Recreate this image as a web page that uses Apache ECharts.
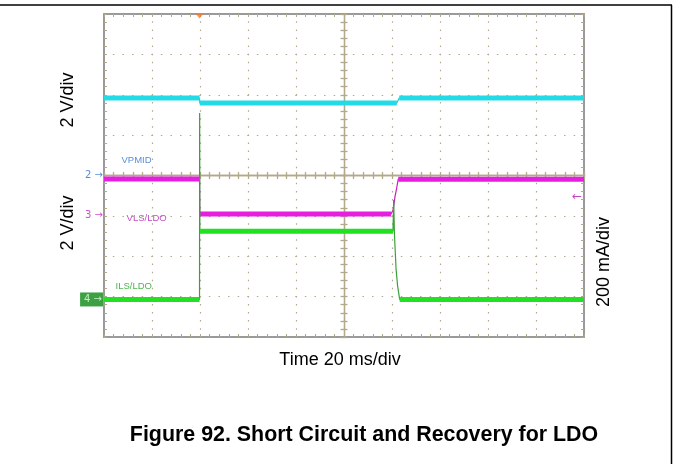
<!DOCTYPE html>
<html>
<head>
<meta charset="utf-8">
<script src="https://cdn.jsdelivr.net/npm/echarts@6/dist/echarts.min.js"></script>
<style>
  html, body { margin: 0; padding: 0; background: #ffffff; }
  #chart { width: 673px; height: 464px; }
</style>
</head>
<body>
<div id="chart"></div>
<script>
// ---- Data read from the scope capture (time in ms from left edge of screen) ----
// Channel 2 : VPMID, 2 V/div, ground marker at centre
const vpmidT = [0, 39.8, 39.9, 122.0, 123.0, 200];
const vpmidV = [3.84, 3.84, 3.59, 3.59, 3.84, 3.84];
// Channel 3 : VLS/LDO, 2 V/div, ground marker one division below centre
const vlsT = [0, 39.8, 39.9, 119.6, 120.5, 121.25, 121.95, 122.6, 200];
const vlsV = [1.83, 1.83, 0.09, 0.09, 0.30, 0.95, 1.38, 1.82, 1.82];
// Channel 4 : ILS/LDO, 200 mA/div
const ilsT = [0, 39.8, 39.85, 39.95, 120.4, 120.7, 121.0, 121.3, 121.7, 122.3, 123.2, 200];
const ilsI = [0, 0, 923, 338, 338, 492, 330, 250, 150, 70, 0, 0];

// channel settings (divisions from screen centre for ground, units per division)
const chNames = ['VPMID', 'VLS/LDO', 'ILS/LDO'];
const chMarks = ['2', '3', '4'];
const chGround = [0, -1, -3.07];
const chScale = [2, 2, 200];
const chColors = ['#22dbe6', '#e61ee0', '#22e022'];
const chThin = ['#22c8d4', '#c81cc4', '#3aa03a'];
const chLabelColors = ['#2f6fd0', '#b020b0', '#20a020'];
// label anchor positions (time ms, division)
const labelT = [7.3, 9.4, 4.8];
const labelDiv = [0.38, -1.05, -2.74];

// tick / axis settings
const timeMax = 200, timeDiv = 20;
const yDivs = 4, xDivs = 5;
const triggerT = 39.8;
const ch3ArrowDiv = -0.53;

const traces = [[vpmidT, vpmidV], [vlsT, vlsV], [ilsT, ilsI]];

function toDiv(ch, v) { return chGround[ch] + v / chScale[ch]; }

const series = [];
traces.forEach(function (tr, ch) {
  const T = tr[0], V = tr[1];
  const full = T.map(function (t, i) { return [t, toDiv(ch, V[i])]; });
  // thick band only on flat stretches
  const flat = [];
  for (let i = 0; i < full.length - 1; i++) {
    const a = full[i], b = full[i + 1];
    if (Math.abs(a[1] - b[1]) < 0.05 && (b[0] - a[0]) > 1) {
      flat.push(a, b, [b[0], '-']);
    }
  }
  series.push({
    type: 'line', xAxisIndex: 0, yAxisIndex: 0, data: full,
    showSymbol: false, symbol: 'none', animation: false, z: 3 + ch,
    lineStyle: { color: chThin[ch], width: 1.2 }
  });
  series.push({
    type: 'line', xAxisIndex: 0, yAxisIndex: 0, data: flat,
    showSymbol: false, symbol: 'none', animation: false, connectNulls: false, z: 3 + ch,
    lineStyle: { color: chColors[ch], width: 5 }
  });
});

// channel name labels inside the screen
series.push({
  type: 'scatter', xAxisIndex: 0, yAxisIndex: 0, symbolSize: 0, animation: false, silent: true, z: 10,
  data: chNames.map(function (n, i) {
    return {
      value: [labelT[i], labelDiv[i]],
      label: { show: true, position: 'right', distance: 0, formatter: n,
               color: chLabelColors[i], fontSize: 9.5, fontFamily: 'Liberation Sans, Arial, sans-serif' }
    };
  })
});

// ground markers on the left edge
series.push({
  type: 'scatter', xAxisIndex: 0, yAxisIndex: 0, symbolSize: 0, animation: false, silent: true, z: 10,
  clip: false,
  data: chMarks.map(function (m, i) {
    const boxed = (i === 2);
    return {
      value: [0, chGround[i]],
      label: boxed ? {
        show: true, position: 'left', distance: 1, formatter: m + ' \u2192',
        color: '#e8ffe8', backgroundColor: '#0d8a14', padding: [2, 1, 2, 4],
        fontSize: 10, fontFamily: 'DejaVu Sans, sans-serif'
      } : {
        show: true, position: 'left', distance: 1, formatter: m + ' \u2192',
        color: i === 0 ? '#2f6fd0' : '#c020c0', fontSize: 10, fontFamily: 'DejaVu Sans, sans-serif'
      }
    };
  })
});

// trigger marker at top and ch3 arrow at right
series.push({
  type: 'scatter', xAxisIndex: 0, yAxisIndex: 0, animation: false, silent: true, z: 10, clip: false,
  data: [
    { value: [triggerT, yDivs], symbol: 'triangle', symbolRotate: 180, symbolSize: [8, 5],
      symbolOffset: [0, 2], itemStyle: { color: '#f07a30' } },
    { value: [timeMax, ch3ArrowDiv], symbolSize: 0,
      label: { show: true, position: 'left', distance: 2, formatter: '\u2190',
               color: '#b020b0', fontSize: 12, fontFamily: 'DejaVu Sans, sans-serif' } }
  ]
});

const gridCol = '#b3a98a';
const borderCol = '#9a9a9a';

function borderX(pos, split) {
  return {
    type: 'value', gridIndex: 0, min: 0, max: timeMax, interval: timeDiv, position: pos,
    axisLine: { show: true, onZero: false, lineStyle: { color: borderCol, width: 2 } },
    axisTick: { show: true, inside: true, length: 3, lineStyle: { color: gridCol } },
    minorTick: { show: true, splitNumber: 5, length: 3, lineStyle: { color: gridCol } },
    axisLabel: { show: false },
    splitLine: { show: split, lineStyle: { color: gridCol, width: 1.2, type: [1.5, 6.575], dashOffset: 0.75 } }
  };
}
function borderY(pos, split) {
  return {
    type: 'value', gridIndex: 0, min: -yDivs, max: yDivs, interval: 1, position: pos,
    axisLine: { show: true, onZero: false, lineStyle: { color: borderCol, width: 2 } },
    axisTick: { show: true, inside: true, length: 3, lineStyle: { color: gridCol } },
    minorTick: { show: true, splitNumber: 5, length: 3, lineStyle: { color: gridCol } },
    axisLabel: { show: false },
    splitLine: { show: split, lineStyle: { color: gridCol, width: 1.2, type: [1.5, 8.1], dashOffset: 0.75 } }
  };
}
function centreX(inside) {
  return {
    type: 'value', gridIndex: 0, min: -xDivs, max: xDivs, interval: 1, position: 'bottom',
    axisLine: { show: true, onZero: true, onZeroAxisIndex: 0, lineStyle: { color: gridCol, width: 1.3 } },
    axisTick: { show: true, inside: inside, length: 3.5, lineStyle: { color: gridCol, width: 1.3 } },
    minorTick: { show: true, splitNumber: 5, length: 3.5, lineStyle: { color: gridCol, width: 1.3 } },
    axisLabel: { show: false }, splitLine: { show: false }
  };
}
function centreY(inside) {
  return {
    type: 'value', gridIndex: 0, min: -yDivs, max: yDivs, interval: 1, position: 'left',
    axisLine: { show: true, onZero: true, onZeroAxisIndex: 2, lineStyle: { color: gridCol, width: 1.3 } },
    axisTick: { show: true, inside: inside, length: 3.5, lineStyle: { color: gridCol, width: 1.3 } },
    minorTick: { show: true, splitNumber: 5, length: 3.5, lineStyle: { color: gridCol, width: 1.3 } },
    axisLabel: { show: false }, splitLine: { show: false }
  };
}

const textFont = 'Liberation Sans, Arial, Helvetica, sans-serif';

const option = {
  backgroundColor: '#ffffff',
  animation: false,
  grid: { left: 104, top: 14, width: 480, height: 323, containLabel: false, outerBoundsMode: 'none' },
  xAxis: [borderX('bottom', true), borderX('top', false), centreX(true), centreX(false)],
  yAxis: [borderY('left', true), borderY('right', false), centreY(true), centreY(false)],
  series: series,
  graphic: [
    { type: 'line', silent: true, shape: { x1: 0, y1: 5, x2: 672, y2: 5 }, style: { stroke: '#000', lineWidth: 1.5 } },
    { type: 'line', silent: true, shape: { x1: 671.5, y1: 5, x2: 671.5, y2: 464 }, style: { stroke: '#000', lineWidth: 1.5 } },
    { type: 'text', x: 68.5, y: 100, rotation: Math.PI / 2, silent: true,
      style: { text: '2 V/div', font: '18px ' + textFont, fill: '#000', textAlign: 'center', textVerticalAlign: 'middle' } },
    { type: 'text', x: 68.5, y: 223, rotation: Math.PI / 2, silent: true,
      style: { text: '2 V/div', font: '18px ' + textFont, fill: '#000', textAlign: 'center', textVerticalAlign: 'middle' } },
    { type: 'text', x: 604, y: 262, rotation: Math.PI / 2, silent: true,
      style: { text: '200 mA/div', font: '18px ' + textFont, fill: '#000', textAlign: 'center', textVerticalAlign: 'middle' } },
    { type: 'text', x: 340, y: 360, silent: true,
      style: { text: 'Time 20 ms/div', font: '18px ' + textFont, fill: '#000', textAlign: 'center', textVerticalAlign: 'middle' } },
    { type: 'text', x: 364, y: 435, silent: true,
      style: { text: 'Figure 92. Short Circuit and Recovery for LDO', font: 'bold 21.4px ' + textFont, fill: '#000', textAlign: 'center', textVerticalAlign: 'middle' } }
  ]
};

const chart = echarts.init(document.getElementById('chart'), null, { renderer: 'canvas' });
chart.setOption(option);
</script>
</body>
</html>
